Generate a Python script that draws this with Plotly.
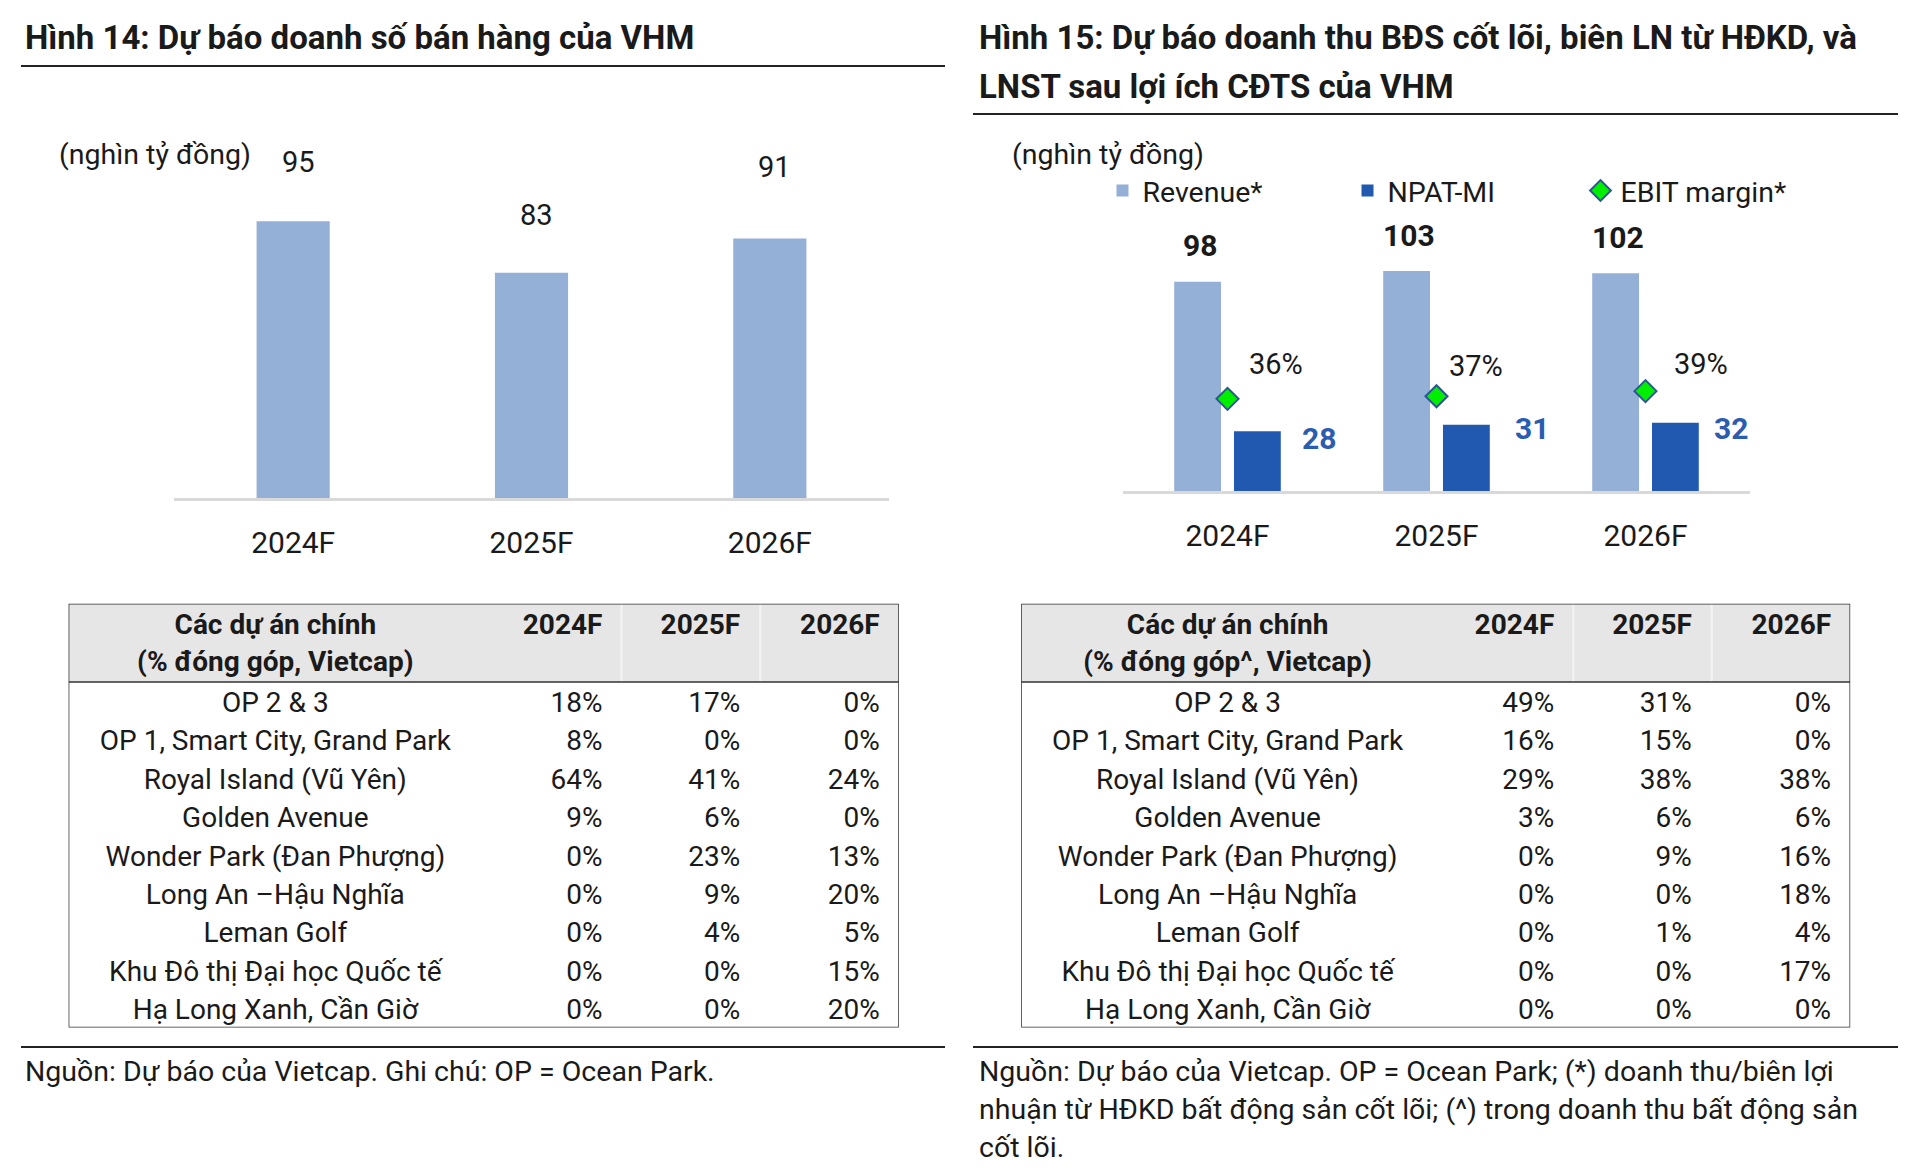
import plotly.graph_objects as go

# ---------------- data ----------------
YEARS = ["2024F", "2025F", "2026F"]
SALES = [95, 83, 91]                      # nghìn tỷ đồng
REVENUE = [98, 103, 102]                  # Revenue*
NPAT = [28, 31, 32]                       # NPAT-MI
EBIT_MARGIN = [0.36, 0.37, 0.39]          # EBIT margin*

PROJECTS = [
    "OP 2 & 3",
    "OP 1, Smart City, Grand Park",
    "Royal Island (Vũ Yên)",
    "Golden Avenue",
    "Wonder Park (Đan Phượng)",
    "Long An –Hậu Nghĩa",
    "Leman Golf",
    "Khu Đô thị Đại học Quốc tế",
    "Hạ Long Xanh, Cần Giờ",
]
SALES_SHARE_2024 = [18, 8, 64, 9, 0, 0, 0, 0, 0]
SALES_SHARE_2025 = [17, 0, 41, 6, 23, 9, 4, 0, 0]
SALES_SHARE_2026 = [0, 0, 24, 0, 13, 20, 5, 15, 20]
CORE_SHARE_2024 = [49, 16, 29, 3, 0, 0, 0, 0, 0]
CORE_SHARE_2025 = [31, 15, 38, 6, 9, 0, 1, 0, 0]
CORE_SHARE_2026 = [0, 0, 38, 6, 16, 18, 4, 17, 0]

TITLE_LEFT = "Hình 14: Dự báo doanh số bán hàng của VHM"
TITLE_RIGHT_1 = "Hình 15: Dự báo doanh thu BĐS cốt lõi, biên LN từ HĐKD, và"
TITLE_RIGHT_2 = "LNST sau lợi ích CĐTS của VHM"
UNIT = "(nghìn tỷ đồng)"
HEAD_LEFT = ["Các dự án chính", "(% đóng góp, Vietcap)"]
HEAD_RIGHT = ["Các dự án chính", "(% đóng góp^, Vietcap)"]
NOTE_LEFT = "Nguồn: Dự báo của Vietcap. Ghi chú: OP = Ocean Park."
NOTE_RIGHT = [
    "Nguồn: Dự báo của Vietcap. OP = Ocean Park; (*) doanh thu/biên lợi",
    "nhuận từ HĐKD bất động sản cốt lõi; (^) trong doanh thu bất động sản",
    "cốt lõi.",
]

# ---------------- style ----------------
PAGE_MARGIN = 8                  # default body margin of the html page
W, H = 1920 - PAGE_MARGIN, 1173 - PAGE_MARGIN
FONT = "Roboto"
INK = "#1a1a1a"
LIGHT_BAR = "#95B0D6"
DARK_BAR = "#2159B0"
NPAT_LABEL = "#2A5DB0"
AXIS_GREY = "#D9D9D9"
RULE = "#222222"
TABLE_LINE = "#333333"
HEADER_FILL = "#E7E6E6"


def fx(p):
    return (p - PAGE_MARGIN) / W


def fy(p):
    return 1 - (p - PAGE_MARGIN) / H


fig = go.Figure()

# ---------------- left chart ----------------
L_BASE, L_TOP = 498, 150
L_SCALE = 4.29           # px per unit
L_MIN = 30.5
fig.add_trace(go.Bar(
    x=YEARS, y=SALES, width=0.307, marker=dict(color=LIGHT_BAR, line=dict(width=0)),
    xaxis="x", yaxis="y", showlegend=False, hoverinfo="skip"))
SALES_LABEL_SHIFT = [59, 58, 71]

# ---------------- right chart ----------------
R_BASE, R_TOP = 491, 150
R_SCALE = 2.135
M_SCALE = 256.0          # px per 1.0 margin
fig.add_trace(go.Bar(
    x=YEARS, y=REVENUE, name="Revenue*", width=0.224, offset=-0.255,
    marker=dict(color=LIGHT_BAR, line=dict(width=0)), xaxis="x2", yaxis="y2",
    legendwidth=200, hoverinfo="skip"))
fig.add_trace(go.Bar(
    x=YEARS, y=NPAT, name="NPAT-MI", width=0.224, offset=0.031,
    marker=dict(color=DARK_BAR, line=dict(width=0)), xaxis="x2", yaxis="y2",
    legendwidth=188, hoverinfo="skip"))
fig.add_trace(go.Scatter(
    x=YEARS, y=EBIT_MARGIN, name="EBIT margin*", mode="markers",
    marker=dict(symbol="diamond", size=17, color="#00EE00",
                line=dict(color="#2F5597", width=2)),
    xaxis="x2", yaxis="y3", legendwidth=200, hoverinfo="skip"))

REV_LABEL_SHIFT = (-27.5, 36)
NPAT_LABEL_XSHIFT = [91, 95, 85]
NPAT_LABEL_YSHIFT = [-7, -4, -6]
EBIT_LABEL_XSHIFT = [48, 39, 55]
EBIT_LABEL_YSHIFT = [35, 30, 27]

annotations = []
for i, (c, v) in enumerate(zip(YEARS, SALES)):
    annotations.append(dict(x=c, y=v, xref="x", yref="y", text=str(v), showarrow=False,
                            xshift=5, yshift=SALES_LABEL_SHIFT[i], yanchor="middle",
                            font=dict(family=FONT, size=29, color=INK)))
for i, (c, v) in enumerate(zip(YEARS, REVENUE)):
    annotations.append(dict(x=c, y=v, xref="x2", yref="y2", text=f"<b>{v}</b>", showarrow=False,
                            xshift=REV_LABEL_SHIFT[0], yshift=REV_LABEL_SHIFT[1], yanchor="middle",
                            font=dict(family=FONT, size=30, color=INK)))
for i, (c, v) in enumerate(zip(YEARS, NPAT)):
    annotations.append(dict(x=c, y=v, xref="x2", yref="y2", text=f"<b>{v}</b>", showarrow=False,
                            xshift=NPAT_LABEL_XSHIFT[i], yshift=NPAT_LABEL_YSHIFT[i], yanchor="middle",
                            font=dict(family=FONT, size=30, color=NPAT_LABEL)))
for i, (c, v) in enumerate(zip(YEARS, EBIT_MARGIN)):
    annotations.append(dict(x=c, y=v, xref="x2", yref="y3", text=f"{round(v * 100)}%", showarrow=False,
                            xshift=EBIT_LABEL_XSHIFT[i], yshift=EBIT_LABEL_YSHIFT[i], yanchor="middle",
                            font=dict(family=FONT, size=29, color=INK)))

# ---------------- tables ----------------
LABEL_X = 0.249
COL_RIGHT = [0.643, 0.809, 0.977]
COL_SEP = [0.666, 0.833]
HEADER_TOP = -2.539
HEADER_LINES = [-1.93, -0.97]
ROW_TEXT_DY = 0.1
ROWS = [i + ROW_TEXT_DY for i in range(len(PROJECTS))]


def add_table(xa, ya, head, cols):
    fig.add_trace(go.Scatter(
        x=[LABEL_X, LABEL_X] + COL_RIGHT,
        y=[HEADER_LINES[0], HEADER_LINES[1]] + [HEADER_LINES[0]] * 3,
        text=head + YEARS, mode="text",
        textposition=["middle center", "middle center"] + ["middle left"] * 3,
        textfont=dict(family=FONT, size=28, color=INK, weight="bold"),
        xaxis=xa, yaxis=ya, showlegend=False, hoverinfo="skip", cliponaxis=False))
    fig.add_trace(go.Scatter(
        x=[LABEL_X] * len(PROJECTS), y=ROWS, text=PROJECTS, mode="text",
        textposition="middle center", textfont=dict(family=FONT, size=28, color=INK),
        xaxis=xa, yaxis=ya, showlegend=False, hoverinfo="skip", cliponaxis=False))
    for xr, vals in zip(COL_RIGHT, cols):
        fig.add_trace(go.Scatter(
            x=[xr] * len(vals), y=ROWS, text=[f"{v}%" for v in vals], mode="text",
            textposition="middle left", textfont=dict(family=FONT, size=28, color=INK),
            xaxis=xa, yaxis=ya, showlegend=False, hoverinfo="skip", cliponaxis=False))


add_table("x3", "y4", HEAD_LEFT, [SALES_SHARE_2024, SALES_SHARE_2025, SALES_SHARE_2026])
add_table("x4", "y5", HEAD_RIGHT, [CORE_SHARE_2024, CORE_SHARE_2025, CORE_SHARE_2026])

shapes = []
n_rows = len(PROJECTS)
for xa, ya in (("x3", "y4"), ("x4", "y5")):
    shapes.append(dict(type="rect", xref=xa, yref=ya, x0=0, x1=1, y0=HEADER_TOP, y1=-0.5,
                       fillcolor=HEADER_FILL, line=dict(width=0), layer="below"))
    for xs in COL_SEP:
        shapes.append(dict(type="line", xref=xa, yref=ya, x0=xs, x1=xs, y0=HEADER_TOP, y1=-0.5,
                           line=dict(color="#F4F4F4", width=2), layer="below"))
    shapes.append(dict(type="line", xref=xa, yref=ya, x0=0, x1=1, y0=-0.5, y1=-0.5,
                       line=dict(color=TABLE_LINE, width=1.5)))
    shapes.append(dict(type="rect", xref=xa, yref=ya, x0=0, x1=1, y0=HEADER_TOP, y1=n_rows - 0.5,
                       line=dict(color=TABLE_LINE, width=1.5)))

# horizontal rules
for (x0, x1, yy) in ((21, 945, 66), (973, 1898, 114), (21, 945, 1047), (973, 1898, 1047)):
    shapes.append(dict(type="line", xref="paper", yref="paper", x0=fx(x0), x1=fx(x1),
                       y0=fy(yy), y1=fy(yy), line=dict(color=RULE, width=2)))


# titles, units, notes
def text_ann(x, y, text, size, bold=False):
    return dict(x=fx(x), y=fy(y), xref="paper", yref="paper", text=f"<b>{text}</b>" if bold else text,
                showarrow=False, xanchor="left", yanchor="middle",
                font=dict(family=FONT, size=size, color=INK))


annotations += [
    text_ann(23, 37, TITLE_LEFT, 33, True),
    text_ann(977, 38, TITLE_RIGHT_1, 33, True),
    text_ann(977, 86, TITLE_RIGHT_2, 33, True),
    text_ann(57, 155, UNIT, 28.5),
    text_ann(1010, 154, UNIT, 28.5),
    text_ann(23, 1071, NOTE_LEFT, 28.5),
]
for yy, line in zip((1071, 1109, 1147), NOTE_RIGHT):
    annotations.append(text_ann(977, yy, line, 28.5))

cat_axis = dict(type="category", range=[-0.5, 2.5], showline=True, linecolor=AXIS_GREY, linewidth=2.5,
                ticks="outside", ticklen=16, tickcolor="rgba(0,0,0,0)", showgrid=False, zeroline=False,
                tickfont=dict(family=FONT, size=30, color=INK), fixedrange=True)
hidden = dict(visible=False, fixedrange=True, showgrid=False, zeroline=False)

fig.update_layout(
    width=W, height=H, margin=dict(l=0, r=0, t=0, b=0),
    paper_bgcolor="white", plot_bgcolor="white",
    font=dict(family=FONT, color=INK),
    barmode="group",
    xaxis=dict(cat_axis, domain=[fx(174), fx(889)], anchor="y"),
    yaxis=dict(hidden, domain=[fy(L_BASE), fy(L_TOP)], range=[L_MIN, L_MIN + (L_BASE - L_TOP) / L_SCALE], anchor="x"),
    xaxis2=dict(cat_axis, domain=[fx(1123), fx(1750)], anchor="y2"),
    yaxis2=dict(hidden, domain=[fy(R_BASE), fy(R_TOP)], range=[0, (R_BASE - R_TOP) / R_SCALE], anchor="x2"),
    yaxis3=dict(hidden, overlaying="y2", range=[0, (R_BASE - R_TOP) / M_SCALE], anchor="x2"),
    xaxis3=dict(hidden, domain=[fx(68.6), fx(898.8)], range=[0, 1], anchor="y4"),
    yaxis4=dict(hidden, domain=[fy(1027.4), fy(603.7)], range=[n_rows - 0.5, HEADER_TOP], anchor="x3"),
    xaxis4=dict(hidden, domain=[fx(1021.2), fx(1850.2)], range=[0, 1], anchor="y5"),
    yaxis5=dict(hidden, domain=[fy(1027.4), fy(603.7)], range=[n_rows - 0.5, HEADER_TOP], anchor="x4"),
    legend=dict(orientation="h", x=fx(1102.5), y=fy(191), xanchor="left", yanchor="middle",
                font=dict(family=FONT, size=28.5, color=INK), bgcolor="rgba(0,0,0,0)",
                traceorder="normal", itemclick=False, itemdoubleclick=False),
    annotations=annotations,
    shapes=shapes,
)

fig.write_html("out.html")
